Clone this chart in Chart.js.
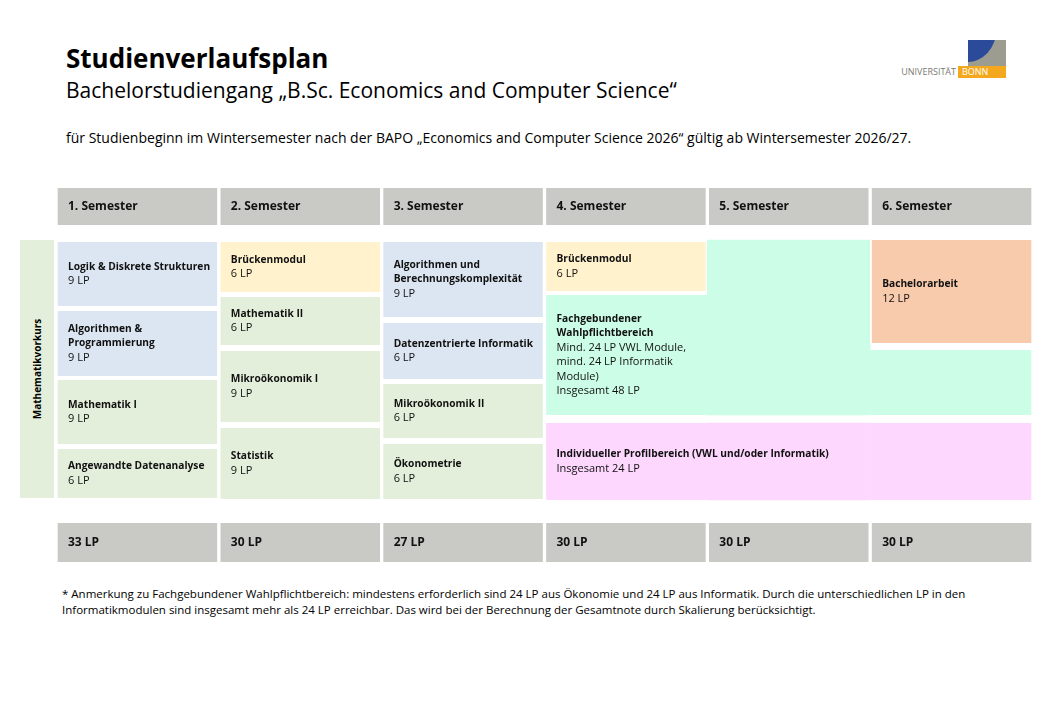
<!DOCTYPE html>
<html><head><meta charset="utf-8">
<script src="https://cdn.jsdelivr.net/npm/chart.js@4"></script>
<style>
body{margin:0;background:#fff;font-family:"Open Sans","Liberation Sans",sans-serif;color:#000;}
.abs{position:absolute;}
</style></head><body>
<div class="abs" style="left:66px;top:40px;font-size:26px;font-weight:bold;">Studienverlaufsplan</div>
<div class="abs" style="left:66px;top:76px;font-size:21px;">Bachelorstudiengang „B.Sc. Economics and Computer Science“</div>
<div class="abs" style="left:66px;top:128px;font-size:14px;">für Studienbeginn im Wintersemester nach der BAPO „Economics and Computer Science 2026“ gültig ab Wintersemester 2026/27.</div>
<div class="abs" style="left:968px;top:40px;width:38px;height:26px;background:#9c9c90;overflow:hidden;">
  <div style="position:absolute;left:-30px;top:-40px;width:58px;height:62px;border-radius:50%;background:#2b4a9a;"></div>
</div>
<div class="abs" style="left:958px;top:66px;width:48px;height:12px;background:#f4a81d;"></div>
<div class="abs" style="left:900px;top:66px;width:56px;text-align:right;font-size:9px;line-height:12px;color:#7a7a72;">UNIVERSITÄT</div>
<div class="abs" style="left:962px;top:66px;font-size:9px;line-height:12px;color:#fff;">BONN</div>
<div class="abs" style="left:20px;top:240px;width:34px;height:258px;background:#e3efda;">
  <div style="position:absolute;left:17px;top:129px;transform:translate(-50%,-50%) rotate(-90deg);font-size:10px;font-weight:bold;white-space:nowrap;">Mathematikvorkurs</div>
</div>
<div class="abs" style="left:56px;top:188px;width:977px;height:374px;"><canvas id="c"></canvas></div>
<div class="abs" style="left:62px;top:586px;font-size:11.5px;line-height:16px;width:960px;">* Anmerkung zu Fachgebundener Wahlpflichtbereich: mindestens erforderlich sind 24 LP aus Ökonomie und 24 LP aus Informatik. Durch die unterschiedlichen LP in den Informatikmodulen sind insgesamt mehr als 24 LP erreichbar. Das wird bei der Berechnung der Gesamtnote durch Skalierung berücksichtigt.</div>
<script>
const semesters = ['1. Semester','2. Semester','3. Semester','4. Semester','5. Semester','6. Semester'];
const totals = ['33 LP','30 LP','27 LP','30 LP','30 LP','30 LP'];
// module boxes: semester index, vertical extent in plan units, title, detail lines, colour group, span joins
const modSem   = [0,0,0,0, 1,1,1,1, 2,2,2,2, 3,3,3, 4,4, 5,5,5];
const modStart = [54,123,192,261, 54,109,163,240, 54,135,196,256, 54,107,235, 52,235, 52,162,235];
const modEnd   = [118,188,256,310, 104,157,234,311, 129,191,250,311, 103,227,312, 227,312, 155,227,312];
const modTitle = [
  ['Logik & Diskrete Strukturen'],['Algorithmen &','Programmierung'],['Mathematik I'],['Angewandte Datenanalyse'],
  ['Brückenmodul'],['Mathematik II'],['Mikroökonomik I'],['Statistik'],
  ['Algorithmen und','Berechnungskomplexität'],['Datenzentrierte Informatik'],['Mikroökonomik II'],['Ökonometrie'],
  ['Brückenmodul'],['Fachgebundener','Wahlpflichtbereich'],['Individueller Profilbereich (VWL und/oder Informatik)'],
  [],[],
  ['Bachelorarbeit'],[],[]];
const modDetail = [
  ['9 LP'],['9 LP'],['9 LP'],['6 LP'],
  ['6 LP'],['6 LP'],['9 LP'],['9 LP'],
  ['9 LP'],['6 LP'],['6 LP'],['6 LP'],
  ['6 LP'],['Mind. 24 LP VWL Module,','mind. 24 LP Informatik','Module)','Insgesamt 48 LP'],['Insgesamt 24 LP'],
  [],[],
  ['12 LP'],[],[]];
const modGroup = ['inf','inf','math','math', 'bridge','math','math','math', 'inf','inf','math','math',
  'bridge','wahl','profil', 'wahl','profil', 'thesis','wahl','profil'];
const joinLeft  = [0,0,0,0, 0,0,0,0, 0,0,0,0, 0,0,0, 1,1, 0,1,1];
const joinRight = [0,0,0,0, 0,0,0,0, 0,0,0,0, 0,1,1, 1,1, 0,0,0];

const groupColor = {inf:'#dce6f2', math:'#e3efda', bridge:'#fff2cc', wahl:'#ccfde7', profil:'#fdd7fd', thesis:'#f8cbad'};
const grey = '#c9c9c5';

const boxes = [];
semesters.forEach((s,i)=>boxes.push({x:s, y:[0,37], title:[s], detail:[], color:grey, jl:0, jr:0, big:true}));
modSem.forEach((c,i)=>boxes.push({x:semesters[c], y:[modStart[i],modEnd[i]], title:modTitle[i], detail:modDetail[i],
  color:groupColor[modGroup[i]], jl:joinLeft[i], jr:joinRight[i], big:false}));
totals.forEach((t,i)=>boxes.push({x:semesters[i], y:[335,374], title:[t], detail:[], color:grey, jl:0, jr:0, big:true}));

const FONT = ' "Open Sans", "Liberation Sans", sans-serif';
const textPlugin = {
  id:'boxText',
  afterDatasetsDraw(chart){
    const ctx = chart.ctx, meta = chart.getDatasetMeta(0);
    meta.data.forEach((el,i)=>{
      const b = boxes[i];
      const lines = b.title.map(t=>[t,true]).concat(b.detail.map(t=>[t,false]));
      if(!lines.length) return;
      const left = el.x - el.width/2 + 12;
      const top = Math.min(el.y, el.base), bot = Math.max(el.y, el.base);
      const lh = 14.5;
      let y = (top+bot)/2 - (lines.length-1)*lh/2;
      ctx.save();
      ctx.fillStyle = '#111';
      ctx.textBaseline = 'middle';
      lines.forEach(([t,bold])=>{
        ctx.font = b.big ? 'bold 12px' + FONT : (bold ? 'bold 10.2px' : '11px') + FONT;
        ctx.fillText(t, left, y);
        y += lh;
      });
      ctx.restore();
    });
  }
};

new Chart(document.getElementById('c'), {
  type:'bar',
  data:{ labels:semesters, datasets:[{
    data: boxes.map(b=>({x:b.x, y:b.y})),
    backgroundColor: boxes.map(b=>b.color),
    borderColor:'#ffffff',
    borderSkipped:false,
    borderWidth: boxes.map(b=>({left:b.jl?0:2, right:b.jr?0:2, top:0, bottom:0})),
    barPercentage:1, categoryPercentage:1, grouped:false
  }]},
  options:{
    responsive:true, maintainAspectRatio:false, animation:false,
    layout:{padding:0},
    plugins:{legend:{display:false}, tooltip:{enabled:false}},
    scales:{
      x:{display:false, offset:true},
      y:{display:false, reverse:true, min:0, max:374}
    }
  },
  plugins:[textPlugin]
});
</script>
</body></html>
